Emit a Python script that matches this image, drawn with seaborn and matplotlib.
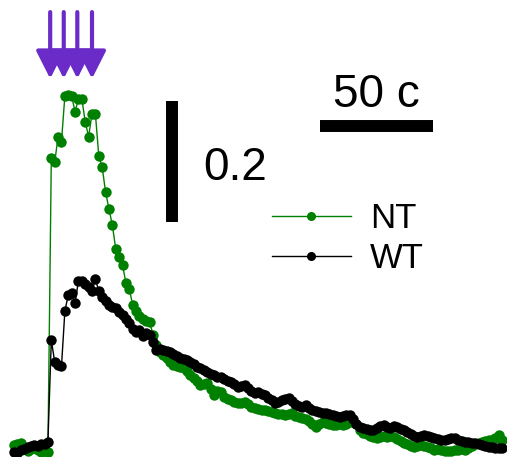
import numpy as np
import pandas as pd
import seaborn as sns
import matplotlib.pyplot as plt

# dF/F traces, one sample every 1.5 cycles
frame_interval = 1.5

nt = [-0.003, -0.002, 0.000, -0.007, -0.013, -0.010, -0.008, -0.012, -0.015, -0.013,
      -0.015, 0.471, 0.464, 0.506, 0.498, 0.574, 0.575, 0.574, 0.547, 0.569,
      0.569, 0.531, 0.506, 0.544, 0.544, 0.475, 0.456, 0.415, 0.387, 0.360,
      0.321, 0.307, 0.294, 0.265, 0.255, 0.228, 0.218, 0.210, 0.205, 0.202,
      0.200, 0.179, 0.162, 0.150, 0.145, 0.141, 0.134, 0.129, 0.127, 0.126,
      0.124, 0.119, 0.112, 0.107, 0.102, 0.096, 0.098, 0.099, 0.089, 0.079,
      0.086, 0.084, 0.076, 0.073, 0.071, 0.068, 0.066, 0.066, 0.068, 0.064,
      0.060, 0.058, 0.056, 0.055, 0.055, 0.053, 0.051, 0.050, 0.048, 0.048,
      0.046, 0.048, 0.050, 0.045, 0.043, 0.041, 0.040, 0.036, 0.031, 0.026,
      0.031, 0.035, 0.033, 0.031, 0.030, 0.030, 0.031, 0.030, 0.031, 0.035,
      0.036, 0.031, 0.021, 0.017, 0.015, 0.012, 0.010, 0.008, 0.010, 0.012,
      0.010, 0.012, 0.010, 0.007, 0.003, 0.000, -0.002, -0.005, -0.007, -0.005,
      -0.003, -0.005, -0.007, -0.008, -0.012, -0.010, -0.012, -0.013, -0.013, -0.013,
      -0.012, -0.012, -0.010, -0.012, -0.008, -0.005, -0.002, 0.000, 0.002, 0.003,
      0.005, 0.005, 0.008, 0.013, 0.005]

wt = [-0.015, -0.017, -0.012, -0.010, -0.007, -0.005, -0.003, -0.005, -0.002, -0.002,
      0.002, 0.170, 0.134, 0.129, 0.127, 0.218, 0.245, 0.248, 0.231, 0.268,
      0.268, 0.263, 0.258, 0.251, 0.271, 0.251, 0.241, 0.235, 0.228, 0.225,
      0.223, 0.217, 0.212, 0.205, 0.198, 0.188, 0.183, 0.187, 0.177, 0.182,
      0.179, 0.167, 0.154, 0.155, 0.154, 0.152, 0.150, 0.147, 0.144, 0.141,
      0.139, 0.137, 0.134, 0.131, 0.126, 0.124, 0.121, 0.117, 0.114, 0.112,
      0.109, 0.109, 0.106, 0.102, 0.101, 0.098, 0.093, 0.094, 0.096, 0.091,
      0.086, 0.083, 0.084, 0.081, 0.079, 0.074, 0.071, 0.066, 0.068, 0.071,
      0.073, 0.074, 0.069, 0.064, 0.061, 0.060, 0.063, 0.058, 0.055, 0.053,
      0.051, 0.050, 0.050, 0.048, 0.046, 0.045, 0.043, 0.045, 0.046, 0.046,
      0.040, 0.031, 0.026, 0.025, 0.023, 0.021, 0.021, 0.025, 0.028, 0.030,
      0.026, 0.025, 0.028, 0.026, 0.023, 0.021, 0.018, 0.015, 0.012, 0.010,
      0.012, 0.013, 0.012, 0.010, 0.008, 0.007, 0.005, 0.005, 0.007, 0.008,
      0.008, 0.005, 0.003, 0.002, 0.002, 0.000, 0.000, -0.002, -0.003, -0.005,
      -0.007, -0.007, -0.008, -0.008, -0.008]

stim_times = [16, 22, 28, 34.5]
groups = ["NT", "WT"]
colors = {"NT": "#008000", "WT": "#000000"}

cycles = np.arange(len(nt)) * frame_interval
df = pd.DataFrame({
    "cycle": np.concatenate([cycles, cycles]),
    "dff": nt + wt,
    "group": ["NT"] * len(nt) + ["WT"] * len(wt),
})

fig = plt.figure(figsize=(5.07, 4.57), dpi=100)
ax = fig.add_axes([0, 0, 1, 1])

sns.lineplot(data=df, x="cycle", y="dff", hue="group", hue_order=groups,
             palette=colors, estimator=None, sort=False, marker="o",
             markersize=7.5, markeredgewidth=0, linewidth=1, ax=ax)

ax.set_xlim(-6.2, 218.1)
ax.set_ylim(-0.023, 0.732)
ax.axis("off")

# stimulus arrows
for t in stim_times:
    ax.annotate("", xy=(t, 0.602), xytext=(t, 0.712),
                arrowprops=dict(arrowstyle="-|>,head_length=1.7,head_width=0.86",
                                color="#6a2bc8", lw=3, shrinkA=0, shrinkB=0))

# scale bars
ax.plot([69.9, 69.9], [0.365, 0.565], color="black", lw=8.6, solid_capstyle="butt")
ax.text(83.6, 0.435, "0.2", fontsize=33, family="Liberation Sans",
        ha="left", va="baseline")
ax.plot([135.4, 185.4], [0.524, 0.524], color="black", lw=8.6, solid_capstyle="butt")
ax.text(160.4, 0.555, "50 c", fontsize=33, family="Liberation Sans",
        ha="center", va="baseline")

handles, labels = ax.get_legend_handles_labels()
for h in handles:
    h.set_markersize(6.5)
ax.legend(handles, labels, loc="upper left", bbox_to_anchor=(0.536, 0.558),
          frameon=False, prop={"family": "Liberation Sans", "size": 25},
          handlelength=2.28, handletextpad=0.55, labelspacing=0.2,
          borderpad=0, borderaxespad=0)

plt.savefig("out.png", dpi=100)
